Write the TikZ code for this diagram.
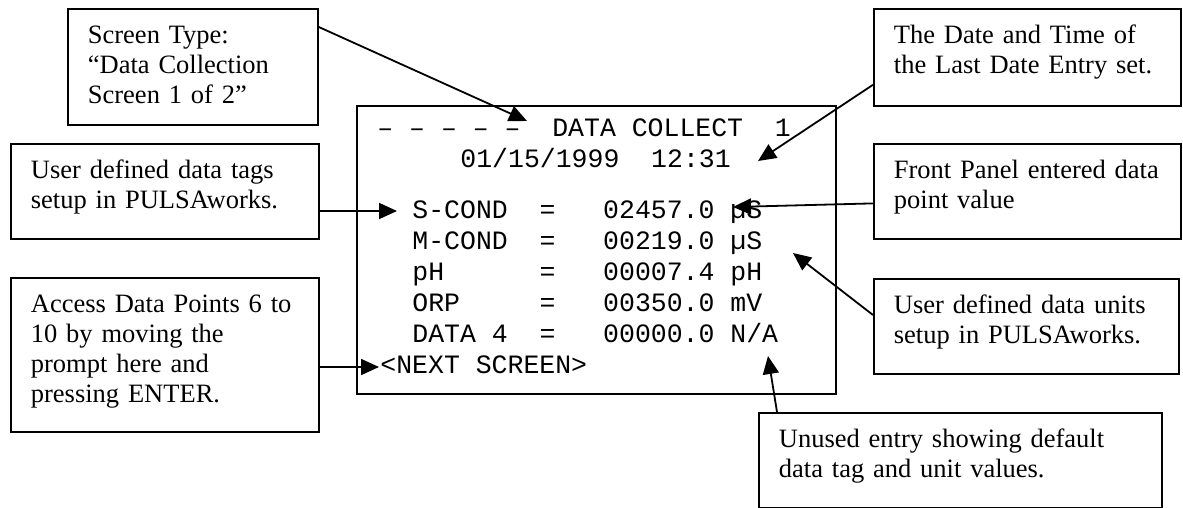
\documentclass[tikz,border=0pt]{standalone}
\usepackage{fontspec}
\setmainfont{Liberation Serif}
\setmonofont{Liberation Mono}
\usepackage{tikz}
\usetikzlibrary{arrows.meta}
\tikzset{
  callbox/.style={draw=black, line width=0.9pt, anchor=north west, align=left, inner xsep=10pt, inner ysep=4pt, text height=13.5pt, font=\fontsize{13.25}{15}\selectfont},
  screenbox/.style={draw=black, line width=0.9pt, anchor=north west, inner sep=0pt},
  scrline/.style={anchor=base west, inner sep=0pt, font=\fontsize{13.25}{15}\selectfont\ttfamily},
  callarrow/.style={-{Triangle[length=9pt,width=8pt]}, line width=0.9pt}
}

\begin{document}
\begin{tikzpicture}[x=0.5pt, y=-0.5pt]
  \useasboundingbox (0,0) rectangle (1183,508);
  % the terminal screen
  \node[screenbox, minimum width=239.5pt, minimum height=144pt] (screen) at (356,105) {};
  \node[scrline] (hdr) at (377,137) {–~–~–~–~–~~DATA~COLLECT~~1};
  \node[scrline] (stamp) at (460,168) {01/15/1999~~12:31};
  \node[scrline] (scond) at (412,218) {S-COND~~=~~~02457.0~µS};
  \node[scrline] (mcond) at (412,249) {M-COND~~=~~~00219.0~µS};
  \node[scrline] (phrow) at (412,280) {pH~~~~~~=~~~00007.4~pH};
  \node[scrline] (orprow) at (412,311) {ORP~~~~~=~~~00350.0~mV};
  \node[scrline] (datarow) at (412,342) {DATA~4~~=~~~00000.0~N/A};
  \node[scrline] (nextrow) at (380,373) {<NEXT~SCREEN>};
  % callouts
  \node[callbox, text width=105pt, text depth=36.5pt] (typebox) at (67,8) {Screen Type:\\“Data Collection\\Screen 1 of 2”};
  \node[callbox, text width=134pt, text depth=26pt] (tagbox) at (10,143) {User defined data tags\\setup in PULSAworks.};
  \node[callbox, text width=134pt, text depth=55.5pt] (accessbox) at (10,277) {Access Data Points 6 to\\10 by moving the\\prompt here and\\pressing ENTER.};
  \node[callbox, text width=133.5pt, text depth=27pt] (datebox) at (873,8) {The Date and Time of\\the Last Date Entry set.};
  \node[callbox, text width=133.5pt, text depth=26pt] (frontbox) at (873,143) {Front Panel entered data\\point value};
  \node[callbox, text width=132.5pt, text depth=26pt] (unitbox) at (873,278) {User defined data units\\setup in PULSAworks.};
  \node[callbox, text width=181.5pt, text depth=26pt] (unusedbox) at (758,412) {Unused entry showing default\\data tag and unit values.};
  % arrow tips
  \coordinate (typetip) at (527,121);
  \coordinate (datetip) at (758,161);
  \coordinate (tagtip) at (397,211);
  \coordinate (fronttip) at (733,207);
  \coordinate (unittip) at (793,253);
  \coordinate (nexttip) at (379,367);
  \coordinate (unusedtip) at (768,356);
  \draw[callarrow] ([yshift=-9.5pt]typebox.north east) -- (typetip);
  \draw[callarrow] ([yshift=11pt]datebox.south west) -- (datetip);
  \draw[callarrow] (tagbox.east |- tagtip) -- (tagtip);
  \draw[callarrow] ([yshift=-6pt]frontbox.west) -- (fronttip);
  \draw[callarrow] ([yshift=-18.5pt]unitbox.north west) -- (unittip);
  \draw[callarrow] (accessbox.east |- nexttip) -- (nexttip);
  \draw[callarrow] ([xshift=9.5pt]unusedbox.north west) -- (unusedtip);
\end{tikzpicture}
\end{document}
